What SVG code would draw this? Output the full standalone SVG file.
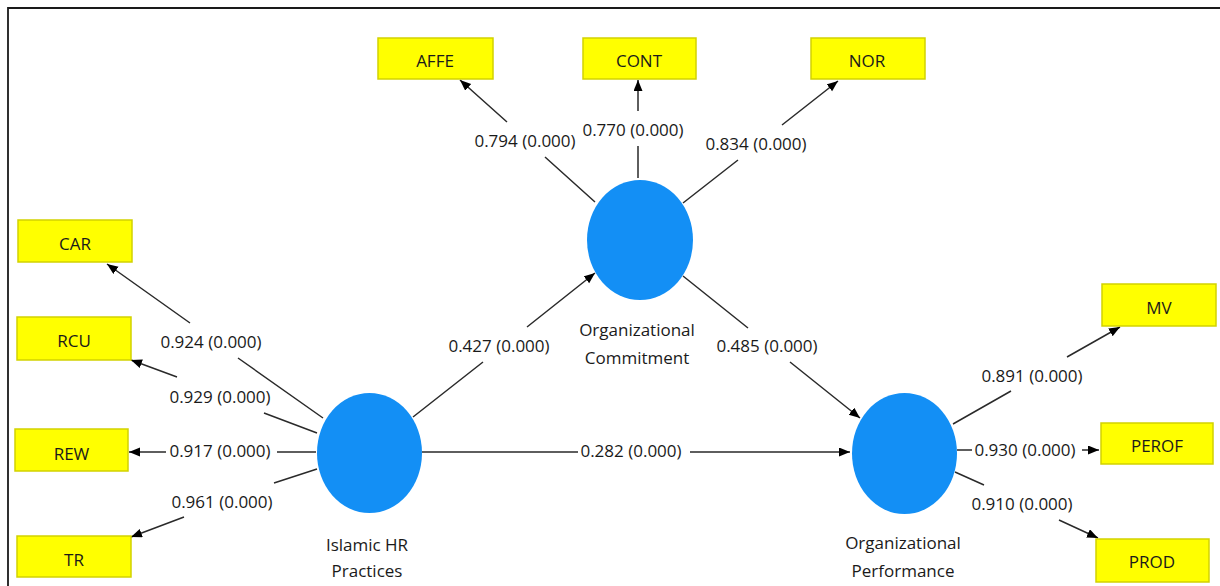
<svg xmlns="http://www.w3.org/2000/svg" width="1220" height="586" viewBox="0 0 1220 586">
  <style>
    .ind rect { fill: #ffff00; stroke: #d2d200; stroke-width: 1.5; }
    .ind text { font-family: "Open Sans", "Noto Sans", "Liberation Sans", sans-serif; font-size: 17px; fill: #1a1a1a; text-anchor: middle; }
    .lat ellipse { fill: #138ff5; }
    .lat text { font-family: "Open Sans", "Noto Sans", "Liberation Sans", sans-serif; font-size: 17px; fill: #1a1a1a; text-anchor: middle; }
    .conn path { fill: none; stroke: #2a2a2a; stroke-width: 1.5; marker-end: url(#arr); }
    .lbl { font-family: "Open Sans", "Noto Sans", "Liberation Sans", sans-serif; font-size: 17px; fill: #1a1a1a; text-anchor: middle; }
  </style>
  <defs>
    <marker id="arr" markerUnits="userSpaceOnUse" markerWidth="12" markerHeight="10" refX="11" refY="4.5" orient="auto">
      <path d="M0,0 L11,4.5 L0,9 Z" fill="#000"/>
    </marker>
  </defs>
  <rect x="0" y="0" width="1220" height="586" fill="#ffffff"/>
  <path d="M8,586 V8 H1220" fill="none" stroke="#1a1a1a" stroke-width="1.8"/>

  <g id="connectors" class="conn">
    <path d="M323,418 L238,358 M190,323 L107,264"/>
    <path d="M317,433 L264,413 M177,377 L131,360"/>
    <path d="M316,452 L277,452 M166,452 L129,452"/>
    <path d="M317,469 L274,483 M184,517 L131,537"/>
    <path d="M413,417 L483,362 M527,327 L595,273"/>
    <path d="M683,276 L748,328 M790,362 L860,418"/>
    <path d="M422,452 L578,452 M690,452 L850,452"/>
    <path d="M595,202 L545,157 M507,122 L460,80"/>
    <path d="M638,178 L638,146 M638,111 L638,80"/>
    <path d="M683,203 L738,160 M782,125 L838,81"/>
    <path d="M953,424 L1011,391 M1067,357 L1120,327"/>
    <path d="M957,450 L972,450 M1082,450 L1099,450"/>
    <path d="M955,472 L984,485 M1059,520 L1098,538"/>
    <g id="connector-labels">
      <text class="lbl" x="211" y="348">0.924 (0.000)</text>
      <text class="lbl" x="220" y="403">0.929 (0.000)</text>
      <text class="lbl" x="220" y="457">0.917 (0.000)</text>
      <text class="lbl" x="222" y="508">0.961 (0.000)</text>
      <text class="lbl" x="499" y="352">0.427 (0.000)</text>
      <text class="lbl" x="767" y="352">0.485 (0.000)</text>
      <text class="lbl" x="631" y="457">0.282 (0.000)</text>
      <text class="lbl" x="525" y="147">0.794 (0.000)</text>
      <text class="lbl" x="633" y="136">0.770 (0.000)</text>
      <text class="lbl" x="756" y="150">0.834 (0.000)</text>
      <text class="lbl" x="1032" y="382">0.891 (0.000)</text>
      <text class="lbl" x="1025" y="456">0.930 (0.000)</text>
      <text class="lbl" x="1022" y="510">0.910 (0.000)</text>
    </g>
  </g>

  <g id="node-ihr" class="lat">
    <ellipse cx="369.5" cy="453" rx="52.5" ry="60"/>
    <text x="367" y="551">Islamic HR</text>
    <text x="367" y="577">Practices</text>
  </g>
  <g id="node-oc" class="lat">
    <ellipse cx="640" cy="240" rx="53" ry="60"/>
    <text x="637" y="336">Organizational</text>
    <text x="637" y="364">Commitment</text>
  </g>
  <g id="node-op" class="lat">
    <ellipse cx="904.5" cy="453.5" rx="52.5" ry="60.5"/>
    <text x="903" y="549">Organizational</text>
    <text x="903" y="577">Performance</text>
  </g>

  <g id="node-car" class="ind"><rect x="18" y="220" width="114" height="42"/><text x="75" y="250">CAR</text></g>
  <g id="node-rcu" class="ind"><rect x="17" y="317" width="114" height="43"/><text x="74" y="347">RCU</text></g>
  <g id="node-rew" class="ind"><rect x="15" y="429" width="113" height="42"/><text x="71.5" y="460">REW</text></g>
  <g id="node-tr" class="ind"><rect x="17" y="536" width="114" height="41"/><text x="74" y="566">TR</text></g>
  <g id="node-affe" class="ind"><rect x="378" y="38" width="115" height="41"/><text x="435" y="67">AFFE</text></g>
  <g id="node-cont" class="ind"><rect x="583" y="38" width="113" height="41"/><text x="639" y="67">CONT</text></g>
  <g id="node-nor" class="ind"><rect x="811" y="38" width="114" height="41"/><text x="867" y="67">NOR</text></g>
  <g id="node-mv" class="ind"><rect x="1102" y="284" width="114" height="42"/><text x="1159" y="314">MV</text></g>
  <g id="node-perof" class="ind"><rect x="1101" y="423" width="112" height="41"/><text x="1157" y="452">PEROF</text></g>
  <g id="node-prod" class="ind"><rect x="1096" y="539" width="113" height="43"/><text x="1152" y="568">PROD</text></g>
</svg>
